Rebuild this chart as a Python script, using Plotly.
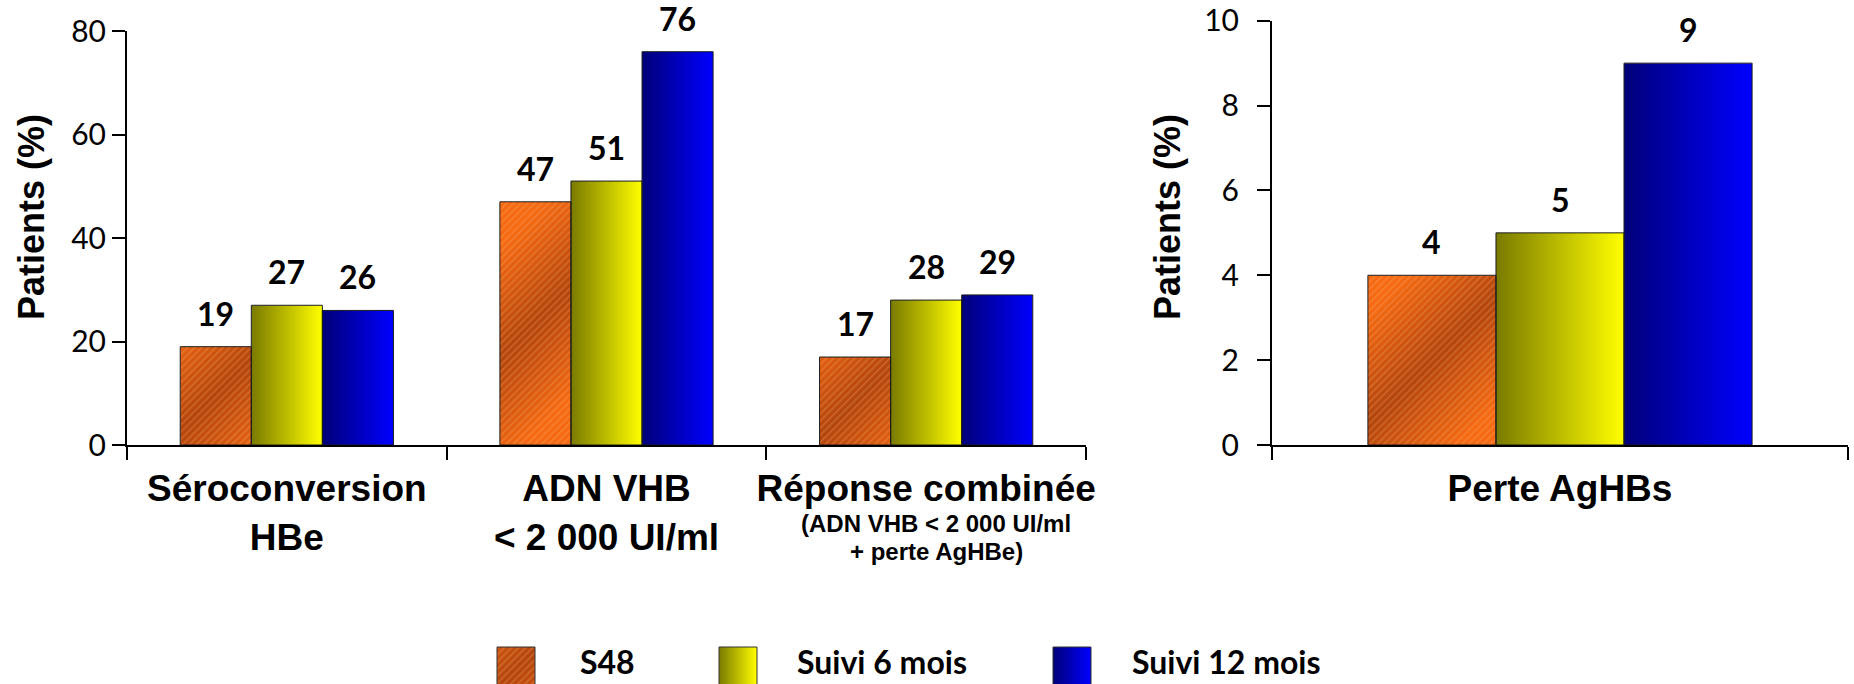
import base64
import plotly.graph_objects as go

# ---- data -------------------------------------------------------------
categories = ["Séroconversion HBe", "ADN VHB < 2 000 UI/ml", "Réponse combinée"]
category_labels = [
    "Séroconversion<br>HBe",
    "ADN VHB<br>&lt; 2 000 UI/ml",
    "Réponse combinée",
]
combined_note = ["(ADN VHB &lt; 2 000 UI/ml", "+ perte AgHBe)"]

series_names = ["S48", "Suivi 6 mois", "Suivi 12 mois"]
s48 = [19, 47, 17]
suivi_6 = [27, 51, 28]
suivi_12 = [26, 76, 29]

right_categories = ["Perte AgHBs"]
s48_r = [4]
suivi_6_r = [5]
suivi_12_r = [9]

left_ticks = [0, 20, 40, 60, 80]
right_ticks = [0, 2, 4, 6, 8, 10]

# ---- layout constants ---------------------------------------------------
W, H = 1854, 684
BARGAP = 0.333
LEFT_X = (127, 1086)
RIGHT_X = (1272, 1848)
BOTTOM = 445
LEFT_TOP = 31
RIGHT_TOP = 20.7


def px_x(a, b):
    return [a / W, b / W]


def px_y(top, bottom):
    return [(H - bottom) / H, (H - top) / H]


def svg_uri(w, h, body):
    svg = (
        f"<svg xmlns='http://www.w3.org/2000/svg' width='{w:.1f}' height='{h:.1f}' "
        f"viewBox='0 0 {w:.1f} {h:.1f}' preserveAspectRatio='none'>{body}</svg>"
    )
    return "data:image/svg+xml;base64," + base64.b64encode(svg.encode()).decode()


def hatched_orange(w, h):
    cx, cy, a = w / 2, h / 2, 55
    body = (
        "<defs>"
        f"<linearGradient id='g' gradientUnits='userSpaceOnUse' x1='{cx-a:.1f}' y1='{cy-a:.1f}' "
        f"x2='{cx+a:.1f}' y2='{cy+a:.1f}'>"
        "<stop offset='0' stop-color='#f56a12'/>"
        "<stop offset='0.5' stop-color='#b3450c'/>"
        "<stop offset='1' stop-color='#f56a12'/>"
        "</linearGradient>"
        "<pattern id='p' width='5' height='5' patternUnits='userSpaceOnUse' patternTransform='rotate(45)'>"
        "<rect width='1.4' height='5' fill='rgba(255,190,140,0.28)'/>"
        "</pattern>"
        "</defs>"
        f"<rect width='{w:.1f}' height='{h:.1f}' fill='url(#g)'/>"
        f"<rect width='{w:.1f}' height='{h:.1f}' fill='url(#p)'/>"
    )
    return svg_uri(w, h, body)


def horizontal_gradient(c0, c1):
    def make(w, h):
        body = (
            "<defs><linearGradient id='g' x1='0' y1='0' x2='1' y2='0'>"
            f"<stop offset='0' stop-color='{c0}'/><stop offset='1' stop-color='{c1}'/>"
            "</linearGradient></defs>"
            f"<rect width='{w:.1f}' height='{h:.1f}' fill='url(#g)'/>"
        )
        return svg_uri(w, h, body)
    return make


fills = [hatched_orange, horizontal_gradient("#7a7a00", "#ffff00"),
         horizontal_gradient("#000078", "#0000ff")]

fig = go.Figure()
images = []
annotations = []


def add_panel(cats, series, xaxis, yaxis, x_px, top_px, y_max):
    n_groups = len(cats)
    group_px = (x_px[1] - x_px[0]) / n_groups
    unit_px = (BOTTOM - top_px) / y_max
    bw = (1 - BARGAP) / len(series)
    for k, vals in enumerate(series):
        fig.add_trace(go.Bar(
            x=cats, y=vals, name=series_names[k], xaxis=xaxis, yaxis=yaxis,
            marker=dict(color="rgba(0,0,0,0)", line=dict(color="#1a1a1a", width=1)),
            showlegend=False, hoverinfo="x+y",
        ))
        for i, v in enumerate(vals):
            x0 = i - (1 - BARGAP) / 2 + k * bw
            images.append(dict(
                source=fills[k](bw * group_px, v * unit_px),
                xref=xaxis, yref=yaxis, x=x0, y=v, sizex=bw, sizey=v,
                xanchor="left", yanchor="top", sizing="stretch", layer="below",
            ))
            annotations.append(dict(
                x=x0 + bw / 2, y=v, xref=xaxis, yref=yaxis, text=str(v),
                showarrow=False, yanchor="bottom", yshift=12,
                font=dict(family="Lato", size=32, color="black", weight="bold"),
            ))


add_panel(categories, [s48, suivi_6, suivi_12], "x", "y", LEFT_X, LEFT_TOP, 80)
add_panel(right_categories, [s48_r, suivi_6_r, suivi_12_r], "x2", "y2", RIGHT_X, RIGHT_TOP, 10)

# y-axis titles
for xc in (31, 1167):
    annotations.append(dict(
        x=xc / W, y=(H - 217) / H, xref="paper", yref="paper", text="Patients (%)",
        textangle=-90, showarrow=False, xanchor="center", yanchor="middle",
        font=dict(family="Liberation Sans", size=36, color="black", weight="bold"),
    ))

# sub-caption of the third category (two lines)
for line, yc in zip(combined_note, (523, 551)):
    annotations.append(dict(
        x=2, y=(H - yc) / H, xref="x", yref="paper", text=line, xshift=10,
        showarrow=False, xanchor="center", yanchor="middle",
        font=dict(family="Liberation Sans", size=24, color="black", weight="bold"),
    ))

# legend (swatches + labels)
legend_swatch_x = [497, 719, 1053]
legend_text_x = [578, 795, 1130]
shapes = []
for k, name in enumerate(series_names):
    x0 = legend_swatch_x[k]
    images.append(dict(
        source=fills[k](38, 46), xref="paper", yref="paper",
        x=x0 / W, y=(H - 647) / H, sizex=38 / W, sizey=46 / H,
        xanchor="left", yanchor="top", sizing="stretch", layer="above",
    ))
    shapes.append(dict(
        type="rect", xref="paper", yref="paper",
        x0=x0 / W, x1=(x0 + 38) / W, y0=(H - 693) / H, y1=(H - 647) / H,
        line=dict(color="#333333", width=1), fillcolor="rgba(0,0,0,0)",
    ))
    annotations.append(dict(
        x=legend_text_x[k] / W, y=(H - 661) / H, xref="paper", yref="paper",
        text=name, showarrow=False, xanchor="left", yanchor="middle",
        font=dict(family="Lato", size=32, color="black", weight="bold"),
    ))

axis_common = dict(showline=True, linecolor="black", linewidth=2, ticks="outside",
                   ticklen=13, tickwidth=2, tickcolor="black", showgrid=False,
                   zeroline=False, automargin=False, tickangle=0)
xfont = dict(family="Liberation Sans", size=37, color="black", weight="bold")
yfont = dict(family="Lato", size=30, color="black")

fig.update_layout(
    width=W, height=H, margin=dict(l=0, r=0, t=0, b=0, autoexpand=False),
    paper_bgcolor="white", plot_bgcolor="white",
    barmode="group", bargap=BARGAP, bargroupgap=0, showlegend=False,
    xaxis=dict(domain=px_x(*LEFT_X), type="category", tickson="boundaries",
               tickvals=categories, ticktext=category_labels, tickfont=xfont,
               ticklabelstandoff=10, anchor="y", **axis_common),
    yaxis=dict(domain=px_y(LEFT_TOP, BOTTOM), range=[0, 80], tickvals=left_ticks,
               tickfont=yfont, anchor="x", **axis_common),
    xaxis2=dict(domain=px_x(*RIGHT_X), type="category", tickson="boundaries",
                tickvals=right_categories, ticktext=right_categories, tickfont=xfont,
                ticklabelstandoff=10, anchor="y2", **axis_common),
    yaxis2=dict(domain=px_y(RIGHT_TOP, BOTTOM), range=[0, 10], tickvals=right_ticks,
                tickfont=yfont, ticklabelstandoff=12, anchor="x2", **axis_common),
    images=images, annotations=annotations, shapes=shapes,
)

fig.write_html("out.html")
